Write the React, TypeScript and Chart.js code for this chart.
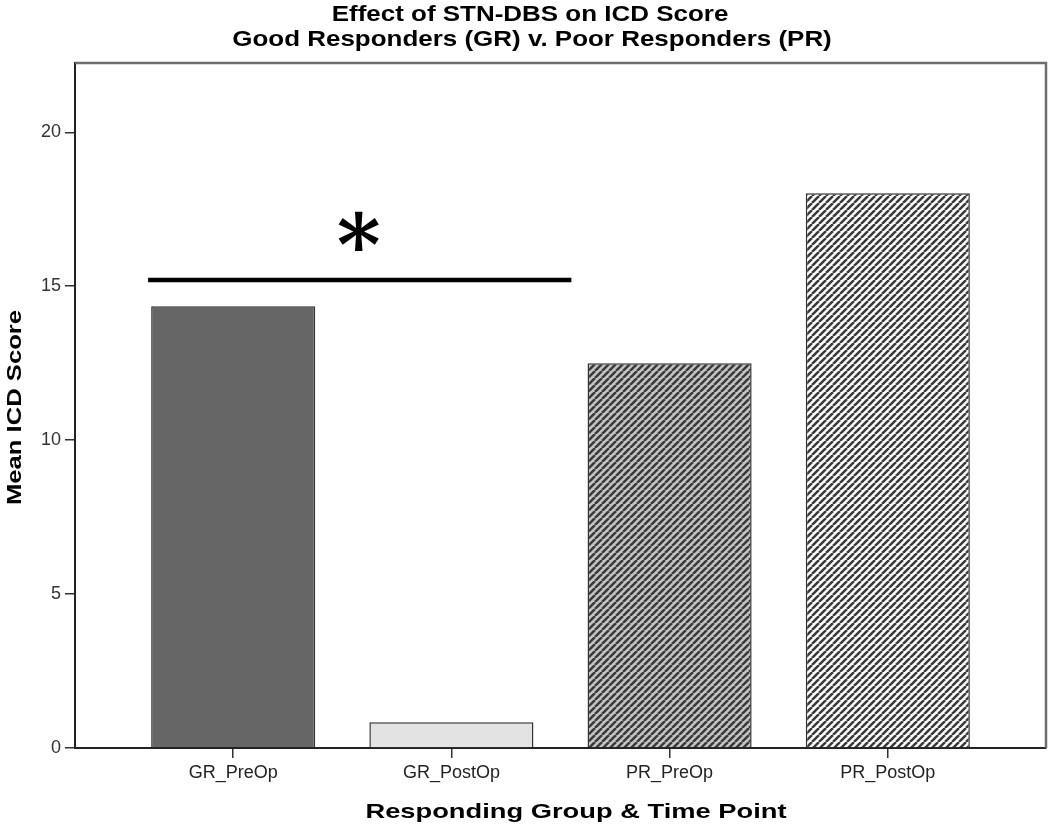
import React, { useEffect, useRef } from 'react';
import { Chart, registerables } from 'chart.js';

Chart.register(...registerables);

const categories = ['GR_PreOp', 'GR_PostOp', 'PR_PreOp', 'PR_PostOp'];
const meanScores = [14.35, 0.84, 12.5, 18.02];
const yTickValues = [0, 5, 10, 15, 20];
const sigBracketX = [-0.39, 1.55];
const sigBracketY = [15.2, 15.2];
const sigMarkX = 0.58;
const sigMarkY = 16.8;
const sigMarkText = '*';
const titleLines = ['Effect of STN-DBS on ICD Score', 'Good Responders (GR) v. Poor Responders (PR)'];
const xTitle = 'Responding Group & Time Point';
const yTitle = 'Mean ICD Score';

const SANS = '"Liberation Sans", Arial, sans-serif';

function makeHatch(bg: string, fg: string, p = 7, lw = 2.5): CanvasPattern | string {
  const c = document.createElement('canvas');
  c.width = p;
  c.height = p;
  const g = c.getContext('2d');
  if (!g) return bg;
  g.fillStyle = bg;
  g.fillRect(0, 0, p, p);
  g.strokeStyle = fg;
  g.lineWidth = lw;
  g.beginPath();
  for (const x0 of [-p, 0, p]) {
    g.moveTo(x0, p);
    g.lineTo(x0 + p, 0);
  }
  g.stroke();
  const pat = g.createPattern(c, 'repeat');
  return pat || bg;
}

function drawText(ctx: CanvasRenderingContext2D, text: string, cx: number, cy: number, font: string, sx: number, rot = 0) {
  ctx.save();
  ctx.translate(cx, cy);
  ctx.rotate(rot);
  ctx.scale(sx, 1);
  ctx.font = font;
  ctx.fillStyle = '#000';
  ctx.textAlign = 'center';
  ctx.textBaseline = 'middle';
  ctx.fillText(text, 0, 0);
  ctx.restore();
}

const annotationPlugin = {
  id: 'frameTitlesMark',
  afterDatasetsDraw(chart: any) {
    const { ctx, scales } = chart;
    ctx.save();
    ctx.font = 'bold 84px "DejaVu Serif"';
    ctx.fillStyle = '#000';
    ctx.textAlign = 'left';
    ctx.textBaseline = 'alphabetic';
    const m = ctx.measureText(sigMarkText);
    const cx = scales.x.getPixelForValue(sigMarkX);
    const cy = scales.y.getPixelForValue(sigMarkY);
    const bx = cx - (m.actualBoundingBoxRight - m.actualBoundingBoxLeft) / 2 + m.actualBoundingBoxLeft;
    const by = cy + (m.actualBoundingBoxAscent - m.actualBoundingBoxDescent) / 2;
    ctx.fillText(sigMarkText, bx, by);
    ctx.restore();
  },
  afterDraw(chart: any) {
    const { ctx, chartArea } = chart;
    ctx.save();
    ctx.strokeStyle = '#6e6e6e';
    ctx.lineWidth = 2.5;
    ctx.beginPath();
    ctx.moveTo(chartArea.left, chartArea.top);
    ctx.lineTo(chartArea.right, chartArea.top);
    ctx.lineTo(chartArea.right, chartArea.bottom);
    ctx.stroke();
    ctx.restore();
    drawText(ctx, titleLines[0], 530, 15, `bold 22px ${SANS}`, 1.18);
    drawText(ctx, titleLines[1], 532, 40, `bold 22px ${SANS}`, 1.18);
    drawText(ctx, xTitle, 576, 812, `bold 21px ${SANS}`, 1.3);
    drawText(ctx, yTitle, 15, (chartArea.top + chartArea.bottom) / 2 + 2, `bold 21px ${SANS}`, 1.22, -Math.PI / 2);
  },
};

export default function App() {
  const ref = useRef<HTMLCanvasElement>(null);
  useEffect(() => {
    const canvas = ref.current;
    if (!canvas) return;
    const darkHatch = makeHatch('#c4c4c4', '#3a3a3a');
    const lightHatch = makeHatch('#ffffff', '#3a3a3a');
    const chart = new Chart(canvas, {
      type: 'bar',
      data: {
        datasets: [
          {
            type: 'bar',
            data: categories.map((_, i) => ({ x: i, y: meanScores[i] })) as any,
            backgroundColor: ['#666666', '#e3e3e3', darkHatch, lightHatch] as any,
            borderColor: '#333333',
            borderWidth: 1.5,
            barPercentage: 1,
            categoryPercentage: 0.752,
          },
          {
            type: 'line',
            data: sigBracketX.map((x, i) => ({ x, y: sigBracketY[i] })) as any,
            borderColor: '#000000',
            borderWidth: 4.5,
            pointRadius: 0,
            borderCapStyle: 'butt',
          } as any,
        ],
      },
      options: {
        animation: false,
        responsive: false,
        layout: { padding: { top: 63, right: 4, left: 0, bottom: 0 } },
        plugins: {
          legend: { display: false },
          tooltip: { enabled: false },
          title: { display: false },
        },
        scales: {
          x: {
            type: 'linear',
            offset: false,
            min: -0.725,
            max: 3.725,
            afterFit: (s: any) => { s.height = 81; },
            afterBuildTicks: (s: any) => { s.ticks = categories.map((_, i) => ({ value: i })); },
            ticks: {
              autoSkip: false,
              maxRotation: 0,
              padding: 4,
              color: '#222',
              font: { family: SANS, size: 18 },
              callback: (v: any) => categories[Math.round(Number(v))] ?? '',
            },
            grid: { offset: false, drawOnChartArea: false, drawTicks: true, tickLength: 10, color: '#333', lineWidth: 1.5 },
            border: { display: true, color: '#222', width: 2 },
          },
          y: {
            type: 'linear',
            min: 0,
            max: 22.25,
            afterFit: (s: any) => { s.width = 75; },
            afterBuildTicks: (s: any) => { s.ticks = yTickValues.map((v) => ({ value: v })); },
            ticks: {
              padding: 4,
              color: '#333',
              font: { family: SANS, size: 18 },
            },
            grid: { drawOnChartArea: false, drawTicks: true, tickLength: 10, color: '#333', lineWidth: 1.5 },
            border: { display: true, color: '#222', width: 2 },
          },
        },
      },
      plugins: [annotationPlugin],
    });
    return () => chart.destroy();
  }, []);
  return (
    <div style={{ position: 'absolute', left: 0, top: 0, width: 1050, height: 829 }}>
      <canvas ref={ref} width={1050} height={829} style={{ width: '1050px', height: '829px' }} />
    </div>
  );
}
